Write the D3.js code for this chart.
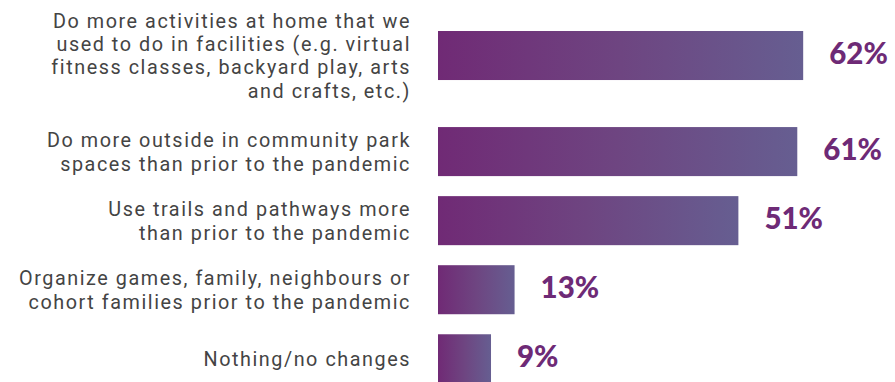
<!DOCTYPE html>
<html>
<head>
<meta charset="utf-8">
<script src="https://cdn.jsdelivr.net/npm/d3@7"></script>
<style>
  html, body { margin: 0; padding: 0; background: #ffffff; }
  svg { display: block; }
</style>
</head>
<body>
<svg id="chart" width="895" height="382"></svg>
<script>
// Survey responses: how families changed recreation habits
const categories = [
  ["Do more activities at home that we", "used to do in facilities (e.g. virtual", "fitness classes, backyard play, arts", "and crafts, etc.)"],
  ["Do more outside in community park", "spaces than prior to the pandemic"],
  ["Use trails and pathways more", "than prior to the pandemic"],
  ["Organize games, family, neighbours or", "cohort families prior to the pandemic"],
  ["Nothing/no changes"]
];
const values = [62, 61, 51, 13, 9];

const W = 895, H = 382;
const barLeft = 438;
const labelRight = 410;
const lineHeight = 23.3;
const firstRowGap = 27;   // extra room under the four-line first label

const svg = d3.select("#chart");

// bar gradient, purple to slate-violet
const defs = svg.append("defs");
const grad = defs.append("linearGradient")
  .attr("id", "barGrad")
  .attr("x1", "0%").attr("x2", "100%")
  .attr("y1", "0%").attr("y2", "0%");
grad.append("stop").attr("offset", "0%").attr("stop-color", "#702a75");
grad.append("stop").attr("offset", "50%").attr("stop-color", "#6e4581");
grad.append("stop").attr("offset", "100%").attr("stop-color", "#665e91");

const x = d3.scaleLinear().domain([0, 100]).range([barLeft, barLeft + 589]);

const y = d3.scaleBand()
  .domain(d3.range(values.length))
  .range([31, 356.3])
  .paddingInner(0.29)
  .paddingOuter(0);

const rowTop = i => y(i) + (i > 0 ? firstRowGap : 0);
const rowMid = i => rowTop(i) + y.bandwidth() / 2;

const rows = svg.append("g").selectAll("g")
  .data(values.map((v, i) => ({ v, i, lines: categories[i] })))
  .join("g");

rows.append("rect")
  .attr("x", x(0))
  .attr("y", d => rowTop(d.i))
  .attr("width", d => x(d.v) - x(0))
  .attr("height", y.bandwidth())
  .attr("fill", "url(#barGrad)");

rows.append("text")
  .attr("x", d => x(d.v) + 26)
  .attr("y", d => rowMid(d.i) + 8)
  .attr("font-family", "Lato, 'Open Sans', sans-serif")
  .attr("font-weight", 900)
  .attr("font-size", 29.5)
  .attr("fill", "#6e2a76")
  .text(d => d.v + "%");

// category labels, right-aligned, one text element per line
rows.each(function (d) {
  const n = d.lines.length;
  const first = rowMid(d.i) - (n - 1) / 2 * lineHeight + 7.3;
  d3.select(this).selectAll("text.cat")
    .data(d.lines)
    .join("text")
    .attr("class", "cat")
    .attr("x", labelRight + 1)
    .attr("y", (t, k) => first + k * lineHeight)
    .attr("text-anchor", "end")
    .attr("font-family", "Roboto, 'Open Sans', sans-serif")
    .attr("font-size", 19.8)
    .attr("letter-spacing", 1.55)
    .attr("fill", "#444444")
    .text(t => t);
});
</script>
</body>
</html>
